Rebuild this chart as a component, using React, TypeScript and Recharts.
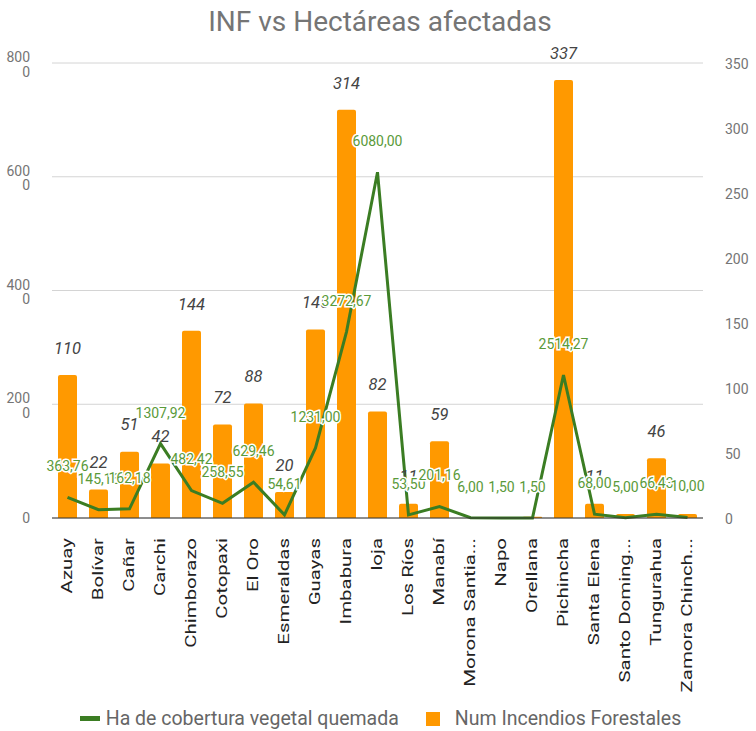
import { Bar, CartesianGrid, ComposedChart, LabelList, Legend, Line, XAxis, YAxis } from "recharts";

const provincias = [
  "Azuay", "Bolívar", "Cañar", "Carchi", "Chimborazo", "Cotopaxi", "El Oro",
  "Esmeraldas", "Guayas", "Imbabura", "loja", "Los Ríos", "Manabí",
  "Morona Santia...", "Napo", "Orellana", "Pichincha", "Santa Elena",
  "Santo Doming...", "Tungurahua", "Zamora Chinch...",
];

const incendios = [110, 22, 51, 42, 144, 72, 88, 20, 145, 314, 82, 11, 59, 0, 0, 1, 337, 11, 3, 46, 3];

const hectareas = [
  363.76, 145.16, 162.18, 1307.92, 482.42, 258.55, 629.46, 54.61, 1231.0,
  3272.67, 6080.0, 53.5, 201.16, 6.0, 1.5, 1.5, 2514.27, 68.0, 5.0, 66.43, 10.0,
];

const leftTicks = [0, 2000, 4000, 6000, 8000];
const rightTicks = [0, 50, 100, 150, 200, 250, 300, 350];

const data = provincias.map((p, i) => ({ name: p, inf: incendios[i], ha: hectareas[i] }));

const FONT = "Roboto, 'Noto Sans', sans-serif";
const ORANGE = "#ff9900";
const GREEN = "#3b7d23";

const fmt = (v: number) => v.toFixed(2).replace(".", ",");

// left labels wrap their last digit onto a second line, as in the source
const LeftTick = (props: any) => {
  const { x, y, payload } = props;
  const s = String(payload.value);
  if (s.length < 4) {
    return (
      <text x={x - 14} y={y} dy="0.35em" textAnchor="end" fill="#757575" fontSize={14} fontFamily={FONT}>
        {s}
      </text>
    );
  }
  return (
    <text x={x - 14} y={y} textAnchor="end" fill="#757575" fontSize={14} fontFamily={FONT}>
      <tspan x={x - 14} dy="-1">{s.slice(0, -1)}</tspan>
      <tspan x={x - 14} dy="14.5">{s.slice(-1)}</tspan>
    </text>
  );
};

const RightTick = (props: any) => {
  const { x, y, payload } = props;
  return (
    <text x={x + 14} y={y} dy="0.4em" textAnchor="start" fill="#757575" fontSize={14} fontFamily={FONT}>
      {payload.value}
    </text>
  );
};

const XTick = (props: any) => {
  const { x, y, payload } = props;
  return (
    <text
      x={0}
      y={0}
      transform={`translate(${x} ${y + 12}) scale(1 1.46) rotate(-90)`}
      dy="0.35em"
      textAnchor="end"
      fill="#222"
      fontSize={14}
      fontFamily={FONT}
    >
      {payload.value}
    </text>
  );
};

const BarLabel = (props: any) => {
  const { x, y, width, value } = props;
  if (!value || value < 5) return null;
  return (
    <text
      x={x + width / 2}
      y={y - 27}
      dy="0.35em"
      textAnchor="middle"
      fill="#444"
      fontSize={16.5}
      fontStyle="italic"
      fontFamily={FONT}
    >
      {value}
    </text>
  );
};

const LineLabel = (props: any) => {
  const { x, y, value } = props;
  return (
    <text
      x={x}
      y={y - 31}
      dy="0.35em"
      textAnchor="middle"
      fill="#5a9a3a"
      stroke="#fff"
      strokeWidth={3}
      paintOrder="stroke"
      fontSize={14}
      fontFamily={FONT}
    >
      {fmt(value)}
    </text>
  );
};

const LegendContent = () => (
  <div
    style={{
      display: "flex",
      justifyContent: "center",
      alignItems: "center",
      fontFamily: FONT,
      fontSize: 19.5,
      color: "#666",
      height: 25,
      paddingLeft: 5,
    }}
  >
    <span style={{ display: "inline-block", width: 20, height: 5, background: GREEN, marginRight: 6 }} />
    <span style={{ marginRight: 27 }}>Ha de cobertura vegetal quemada</span>
    <span style={{ display: "inline-block", width: 14, height: 14, background: ORANGE, marginRight: 15 }} />
    <span>Num Incendios Forestales</span>
  </div>
);

export default function App() {
  return (
    <div style={{ position: "absolute", left: 0, top: 0, width: 756, height: 731, background: "#fff" }}>
      <div
        style={{
          position: "absolute",
          top: 5,
          left: 0,
          width: 756,
          textAlign: "center",
          fontFamily: FONT,
          fontSize: 28,
          color: "#757575",
          paddingLeft: 2,
        }}
      >
        INF vs Hectáreas afectadas
      </div>
      <ComposedChart width={756} height={731} data={data} margin={{ top: 63, right: 0, left: 0, bottom: 0 }}>
        <CartesianGrid vertical={false} stroke="#d4d4d4" yAxisId="ha" />
        <XAxis
          dataKey="name"
          interval={0}
          height={188}
          tick={<XTick />}
          tickLine={false}
          axisLine={{ stroke: "#333" }}
        />
        <YAxis
          yAxisId="ha"
          orientation="left"
          width={52}
          domain={[0, 8000]}
          ticks={leftTicks}
          tick={<LeftTick />}
          axisLine={false}
          tickLine={false}
        />
        <YAxis
          yAxisId="inf"
          orientation="right"
          width={53}
          domain={[0, 350]}
          ticks={rightTicks}
          tick={<RightTick />}
          axisLine={false}
          tickLine={false}
        />
        <Legend verticalAlign="bottom" height={25} content={<LegendContent />} />
        <Bar yAxisId="inf" dataKey="inf" fill={ORANGE} barSize={19} radius={[2, 2, 0, 0]} isAnimationActive={false}>
          <LabelList dataKey="inf" content={<BarLabel />} />
        </Bar>
        <Line
          yAxisId="ha"
          dataKey="ha"
          type="linear"
          stroke={GREEN}
          strokeWidth={3}
          dot={false}
          isAnimationActive={false}
        >
          <LabelList dataKey="ha" content={<LineLabel />} />
        </Line>
      </ComposedChart>
    </div>
  );
}
